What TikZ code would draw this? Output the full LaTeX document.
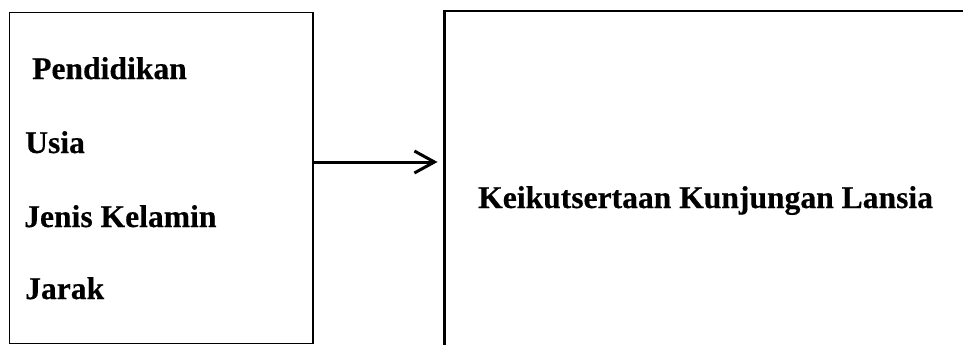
\documentclass[tikz,border=0pt]{standalone}
\usepackage{fontspec}
\setmainfont{Liberation Serif}[BoldFeatures={FakeBold=0.4}]
\usetikzlibrary{arrows.meta}
\begin{document}
\begin{tikzpicture}[x=1pt,y=-1pt,
  lbl/.style={anchor=base west, inner sep=0pt, font=\fontsize{31.6}{38}\selectfont\bfseries},
  boxl/.style={draw, line width=1.8pt, rectangle, inner sep=0pt, outer sep=0pt},
  boxr/.style={draw, line width=2.2pt, rectangle, inner sep=0pt, outer sep=0pt},
  arrtip/.tip={Straight Barb[length=20pt,width=22pt,line width=3pt]}]
\useasboundingbox (0,0) rectangle (963,345);
\node[boxl, minimum width=303.5pt, minimum height=331pt, anchor=north west] (left) at (9.5,12.5) {};
\begin{scope}
\clip (0,0) rectangle (963,345);
\node[boxr, minimum width=600pt, minimum height=400pt, anchor=north west] (right) at (444.5,11) {};
\end{scope}
\node[lbl] (pend) at (32,79) {Pendidikan};
\node[lbl] (usia) at (25,153) {Usia};
\node[lbl] (jk) at (24,227) {Jenis Kelamin};
\node[lbl] (jarak) at (25,299) {Jarak};
\node[lbl] (kkl) at (478,208) {Keikutsertaan Kunjungan Lansia};
\coordinate (ay) at (0,162);
\draw[line width=3pt, -arrtip, shorten >=7pt] (left.east |- ay) -- (right.west |- ay);
\end{tikzpicture}
\end{document}
